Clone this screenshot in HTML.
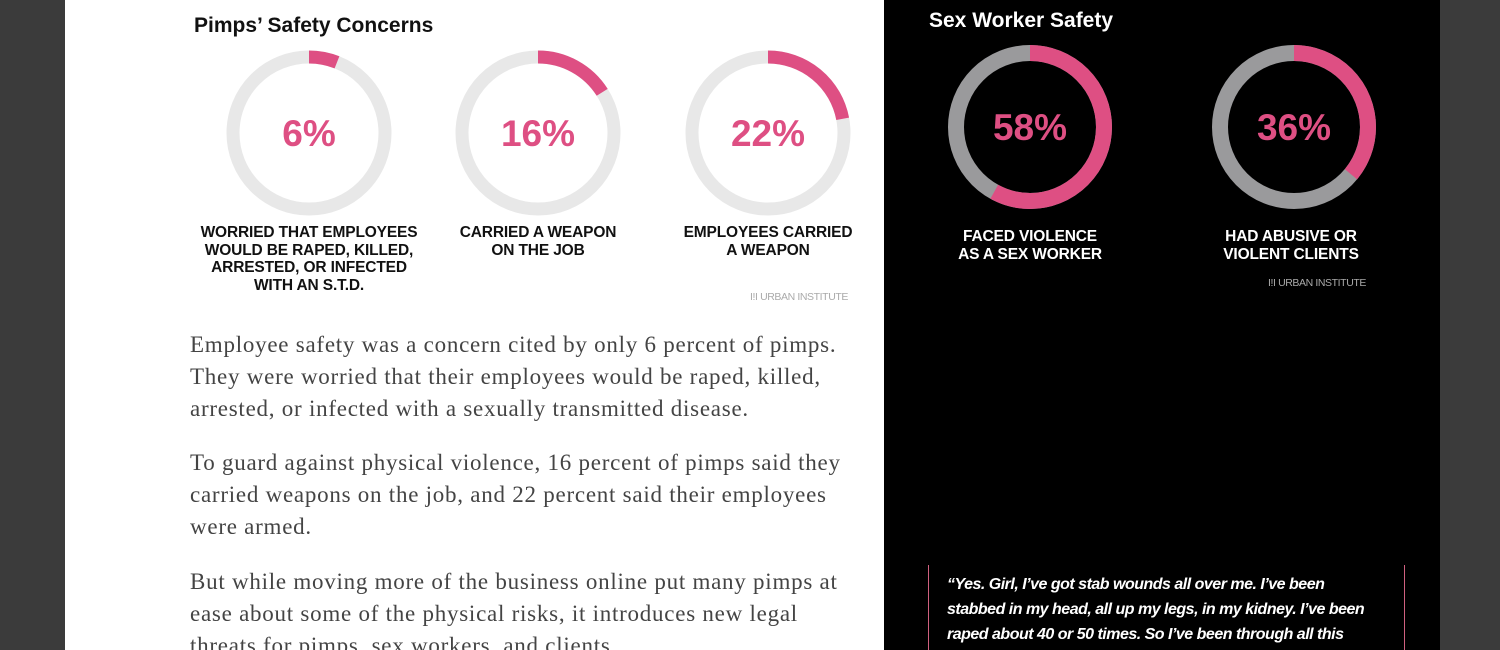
<!DOCTYPE html>
<html><head><meta charset="utf-8"><style>
html,body{margin:0;width:1500px;height:650px;overflow:hidden}
body{background:#3b3b3b;position:relative;font-family:"Liberation Sans",sans-serif}
.abs{position:absolute;margin:0;white-space:nowrap}
#white{position:absolute;left:65px;top:0;width:819px;height:650px;background:#fff}
#black{position:absolute;left:884px;top:0;width:556px;height:650px;background:#000}
.lbl{font-weight:bold;font-size:15.5px;letter-spacing:-0.15px;line-height:17.5px;text-align:center;transform:translateX(-50%)}
.para{font-family:"Liberation Serif",serif;font-size:23px;letter-spacing:0.75px;color:#444;line-height:32px;left:190px}
.ui{font-size:10.5px;color:#aaa;letter-spacing:-0.4px}
.q{font-weight:bold;font-style:italic;font-size:16px;letter-spacing:-0.5px;color:#fff;left:947px;line-height:25px}
</style></head><body>
<div id="white"></div>
<div id="black"></div>
<svg id="chart" class="abs" style="left:0;top:0" width="1500" height="650"></svg>
<div class="abs" style="left:194px;top:14px;font-size:21px;font-weight:bold;letter-spacing:0px;color:#111">Pimps’ Safety Concerns</div>
<div class="abs" style="left:929px;top:9px;font-size:21px;font-weight:bold;letter-spacing:0px;color:#fff">Sex Worker Safety</div>
<div class="abs lbl" style="left:309px;top:224px;color:#111">WORRIED THAT EMPLOYEES<br>WOULD BE RAPED, KILLED,<br>ARRESTED, OR INFECTED<br>WITH AN S.T.D.</div>
<div class="abs lbl" style="left:538px;top:224px;color:#111">CARRIED A WEAPON<br>ON THE JOB</div>
<div class="abs lbl" style="left:768px;top:224px;color:#111">EMPLOYEES CARRIED<br>A WEAPON</div>
<div class="abs lbl" style="left:1030px;top:228px;color:#fff">FACED VIOLENCE<br>AS A SEX WORKER</div>
<div class="abs lbl" style="left:1291px;top:228px;color:#fff">HAD ABUSIVE OR<br>VIOLENT CLIENTS</div>
<div class="abs ui" style="left:750px;top:291px">I!I URBAN INSTITUTE</div>
<div class="abs ui" style="left:1268px;top:277px">I!I URBAN INSTITUTE</div>
<p class="abs para" style="top:329px">Employee safety was a concern cited by only 6 percent of pimps.<br>They were worried that their employees would be raped, killed,<br>arrested, or infected with a sexually transmitted disease.</p>
<p class="abs para" style="top:447px">To guard against physical violence, 16 percent of pimps said they<br>carried weapons on the job, and 22 percent said their employees<br>were armed.</p>
<p class="abs para" style="top:566px">But while moving more of the business online put many pimps at<br>ease about some of the physical risks, it introduces new legal<br>threats for pimps, sex workers, and clients.</p>
<div class="abs" style="left:928px;top:565px;width:1px;height:85px;background:#d0607f"></div>
<div class="abs" style="left:1404px;top:565px;width:1px;height:85px;background:#d0607f"></div>
<div class="abs q" style="top:572px">“Yes. Girl, I’ve got stab wounds all over me. I’ve been<br>stabbed in my head, all up my legs, in my kidney. I’ve been<br>raped about 40 or 50 times. So I’ve been through all this</div>
<script>
const names=['worried','weapon-job','employees-weapon','faced-violence','abusive-clients'];
const values=[6,16,22,58,36];
const labels=['6%','16%','22%','58%','36%'];
const svg=document.getElementById('chart');
const NS='http://www.w3.org/2000/svg';
const cfg=[[309,133,76,13,'#e8e8e8'],[538,133,76,13,'#e8e8e8'],[768,133,76,13,'#e8e8e8'],[1030,127,74,16,'#9a9a9c'],[1294,127,74,16,'#9a9a9c']];
values.forEach((v,i)=>{
 const [cx,cy,r,w,bg]=cfg[i];
 const C=2*Math.PI*r;
 const g=document.createElementNS(NS,'g');
 
 
 const a=document.createElementNS(NS,'circle');
 a.setAttribute('cx',cx);a.setAttribute('cy',cy);a.setAttribute('r',r);
 a.setAttribute('fill','none');a.setAttribute('stroke',bg);a.setAttribute('stroke-width',w);
 
 
 g.appendChild(a);
 const b=document.createElementNS(NS,'circle');
 b.setAttribute('cx',cx);b.setAttribute('cy',cy);b.setAttribute('r',r);
 b.setAttribute('fill','none');b.setAttribute('stroke','#de4f83');b.setAttribute('stroke-width',w);
 b.setAttribute('stroke-dasharray',(C*v/100)+' '+C);
 b.setAttribute('transform','rotate(-90 '+cx+' '+cy+')');
 
 
 g.appendChild(b);
 const t=document.createElementNS(NS,'text');
 t.setAttribute('x',cx);t.setAttribute('y',cy+13);
 t.setAttribute('text-anchor','middle');t.setAttribute('fill','#de4f83');
 t.setAttribute('font-family','Liberation Sans, sans-serif');t.setAttribute('font-weight','bold');
 t.setAttribute('font-size','37');
 t.textContent=labels[i];
 
 
 g.appendChild(t);
 svg.appendChild(g);
});
</script>
</body></html>
